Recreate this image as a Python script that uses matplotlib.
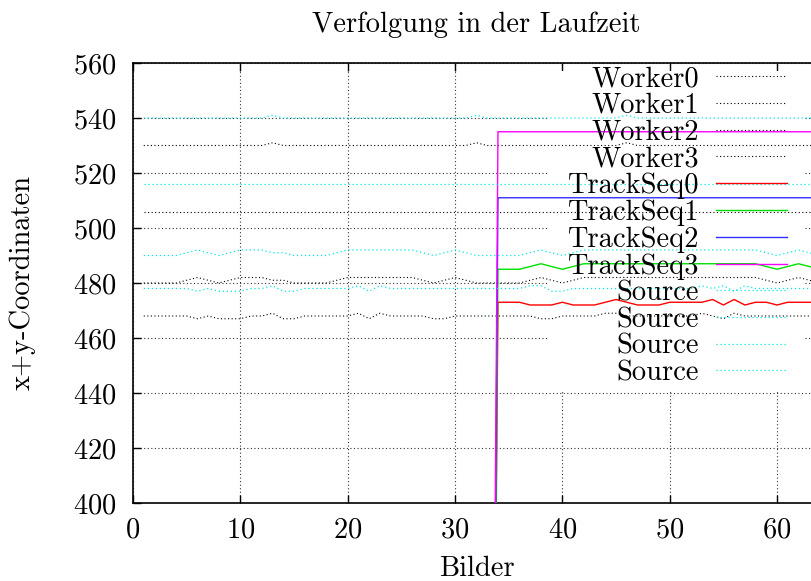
import matplotlib
matplotlib.use("Agg")
import matplotlib.pyplot as plt
from matplotlib.patches import Rectangle

# ---------------- data ----------------
frames = list(range(1, 65))
worker0 = [530]*12 + [531] + [530]*18 + [531] + [530]*13 + [531] + [530]*18
worker1 = [506]*64
worker2 = [480, 480, 480, 480, 481, 482, 481, 480, 481, 482, 482, 482, 481, 481, 480, 480,
           480, 480, 481, 482, 482, 482, 482, 482, 482, 482, 481, 480, 481, 482, 481, 480,
           480, 480, 480, 480, 481, 482, 481, 480, 481, 482, 482, 482, 482, 482, 482, 482,
           482, 482, 482, 482, 482, 482, 482, 482, 482, 482, 481, 480, 481, 482, 481, 480]
worker3 = [468, 468, 468, 468, 468, 467, 468, 467, 467, 467, 468, 468, 469, 467, 467, 468,
           468, 468, 468, 468, 469, 467, 469, 468, 468, 468, 468, 467, 467, 468, 468, 468,
           468, 468, 468, 468, 468, 467, 467, 468, 468, 468, 468, 469, 469, 468, 468, 468,
           468, 468, 468, 468, 469, 468, 467, 469, 468, 468, 468, 468, 468, 468, 468, 468]
source0 = [540]*12 + [541] + [540]*18 + [541] + [540]*13 + [541] + [540]*18
source1 = [516]*64
source2 = [490, 490, 490, 490, 491, 492, 491, 490, 491, 492, 492, 492, 491, 491, 490, 490,
           490, 490, 491, 492, 492, 492, 492, 492, 492, 492, 491, 490, 491, 492, 491, 490,
           490, 490, 490, 490, 491, 492, 491, 490, 491, 492, 492, 492, 492, 492, 492, 492,
           492, 492, 492, 492, 492, 492, 492, 492, 492, 492, 491, 490, 491, 492, 491, 490]
source3 = [478, 478, 478, 478, 478, 477, 478, 477, 477, 477, 478, 478, 479, 477, 477, 478,
           478, 478, 478, 478, 479, 477, 479, 478, 478, 478, 478, 478, 478, 478, 478, 478,
           478, 478, 478, 478, 479, 479, 477, 477, 478, 478, 478, 478, 478, 478, 478, 478,
           478, 478, 478, 478, 479, 478, 479, 477, 479, 478, 478, 478, 478, 478, 478, 478]

track_frames = list(range(33, 65))
track0 = [0, 473, 473, 473, 472, 472, 472, 473, 472, 472, 472, 473, 474, 473, 472, 472,
          472, 473, 473, 473, 473, 474, 472, 474, 472, 473, 473, 472, 473, 473, 473, 473]
track1 = [0, 485, 485, 485, 486, 487, 486, 485, 486, 487, 487, 487, 487, 487, 487, 487,
          487, 487, 487, 487, 487, 487, 487, 487, 487, 487, 486, 485, 486, 487, 486, 485]
track2 = [0] + [511]*31
track3 = [0] + [535]*31

xticks = [0, 10, 20, 30, 40, 50, 60]
yticks = [400, 420, 440, 460, 480, 500, 520, 540, 560]

# ---------------- style ----------------
plt.rcParams['font.family'] = ['cmr10', 'DejaVu Serif']
plt.rcParams['axes.formatter.use_mathtext'] = True
FS = 20.5

W, H = 811, 581
fig = plt.figure(figsize=(W/100, H/100), dpi=100)
ax = fig.add_axes([133/W, 78/H, 687/W, 440/H])

dot = (0, (1, 2.2))
cyan = '#00e8e8'
lines = []
labels = []
for name, ys in [('Worker0', worker0), ('Worker1', worker1), ('Worker2', worker2), ('Worker3', worker3)]:
    l, = ax.plot(frames, ys, color='black', lw=0.8, ls=dot, zorder=3)
    lines.append(l); labels.append(name)
for name, ys, c in [('TrackSeq0', track0, '#ff0000'), ('TrackSeq1', track1, '#00e000'),
                    ('TrackSeq2', track2, '#3030ff'), ('TrackSeq3', track3, '#ff00ff')]:
    l, = ax.plot(track_frames, ys, color=c, lw=1.0, zorder=3)
    lines.append(l); labels.append(name)
for ys in [source0, source1, source2, source3]:
    l, = ax.plot(frames, ys, color=cyan, lw=0.9, ls=dot, zorder=3)
    lines.append(l); labels.append('Source')

ax.set_xlim(0, 64)
ax.set_ylim(400, 560)
ax.set_xticks(xticks)
ax.set_yticks(yticks)
ax.tick_params(direction='in', length=6, width=1, top=True, right=True,
               labelsize=FS, pad=10)
ax.tick_params(axis='y', pad=12)
ax.set_axisbelow(True)
ax.grid(True, color='#333333', lw=0.8, ls=dot)
for s in ax.spines.values():
    s.set_linewidth(1.2)

ax.set_title('Verfolgung in der Laufzeit', fontsize=FS, pad=22)
ax.set_xlabel('Bilder', fontsize=FS, labelpad=9)
ax.set_ylabel('x+y-Coordinaten', fontsize=FS, labelpad=27)

leg = ax.legend(lines, labels, loc='upper right', markerfirst=False, frameon=False,
                fontsize=FS, handlelength=2.5, handletextpad=0.6, labelspacing=0.012,
                borderpad=0, borderaxespad=0,
                bbox_to_anchor=(787/W, 1 - 66/H), bbox_transform=fig.transFigure)
leg.set_zorder(4)

# white area behind the key hides the grid there (as gnuplot does)
fig.canvas.draw()
bb = leg.get_window_extent()
inv = ax.transAxes.inverted()
(x0, y0) = inv.transform((bb.x0 - 19, bb.y0 - 6))
(x1, _) = inv.transform((bb.x1 + 18, bb.y1))
ytop = inv.transform((0, (H - 71)))[1]
ax.add_patch(Rectangle((x0, y0), x1 - x0, ytop - y0, transform=ax.transAxes,
                       facecolor='white', edgecolor='none', zorder=1))

fig.savefig('out.png', dpi=100)
